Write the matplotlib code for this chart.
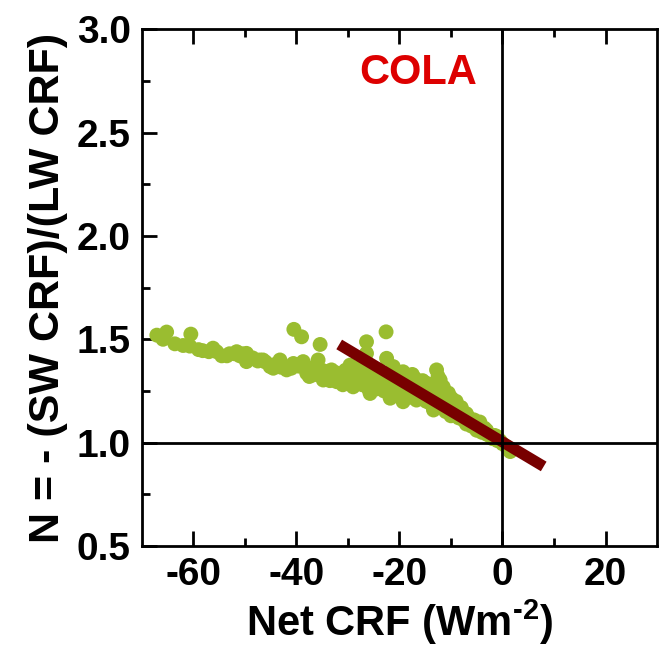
import matplotlib
matplotlib.use("Agg")
import matplotlib.pyplot as plt

# COLA: cloud radiative forcing ratio vs net CRF
net_crf = [-67.1, -65.2, -65.9, -63.6, -62.0, -60.5, -60.7, -59.0, -58.2, -57.0,
           -56.2, -55.5, -54.5, -53.5, -53.0, -52.0, -51.6, -51.0, -50.5, -49.7,
           -49.7, -48.5, -47.5, -47.1, -46.5, -46.0, -45.1, -44.5, -44.0, -43.2,
           -43.0, -42.5, -41.9, -41.0, -40.6, -40.5, -39.0, -39.5, -38.7, -38.0,
           -37.2, -37.0, -36.7, -36.0, -35.8, -35.4, -35.0, -34.8, -34.0, -33.2,
           -33.0, -32.5, -32.2, -31.5, -31.0, -30.5, -30.0, -30.0, -29.6, -29.0,
           -29.0, -28.5, -28.0, -28.0, -27.7, -27.5, -27.0, -27.0, -26.5, -26.4,
           -26.4, -26.0, -25.7, -25.5, -25.0, -25.0, -24.5, -24.0, -24.0, -24.0,
           -23.5, -23.0, -23.0, -22.6, -22.5, -22.5, -22.0, -22.0, -21.8, -21.5,
           -21.2, -21.0, -21.0, -20.5, -20.0, -20.0, -20.0, -19.5, -19.3, -19.3,
           -19.0, -19.0, -18.5, -18.0, -18.0, -18.0, -17.5, -17.0, -17.0, -16.7,
           -16.5, -16.0, -16.0, -15.5, -15.0, -15.0, -15.0, -14.7, -14.5, -14.0,
           -14.0, -13.5, -13.4, -13.0, -13.0, -12.8, -12.5, -12.1, -12.0, -12.0,
           -11.5, -11.5, -11.0, -11.0, -10.5, -10.5, -10.0, -10.0, -9.9, -9.5,
           -9.0, -9.0, -8.9, -8.5, -8.0, -8.0, -7.6, -7.0, -7.0, -6.5,
           -6.0, -6.0, -5.5, -5.0, -5.0, -4.4, -4.0, -3.5, -3.1, -3.0,
           -2.5, -2.0, -1.5, -1.1, -1.0, -0.5, 0.0, 0.8, 1.5,
           -33.5, -31.0, -28.5, -26.0, -23.5, -21.5, -19.5, -17.5, -15.5, -13.5,
           -11.8, -9.6, -37.5, -33.8, -29.8, -27.2, -24.8, -22.8, -20.8, -18.8,
           -16.8, -14.8, -12.6, -10.8]
n_ratio = [1.52, 1.535, 1.50, 1.478, 1.47, 1.525, 1.467, 1.45, 1.445, 1.44,
           1.457, 1.44, 1.42, 1.42, 1.43, 1.43, 1.44, 1.42, 1.43, 1.432,
           1.392, 1.41, 1.395, 1.40, 1.40, 1.39, 1.368, 1.36, 1.38, 1.40,
           1.365, 1.37, 1.352, 1.36, 1.383, 1.548, 1.512, 1.37, 1.392, 1.336,
           1.36, 1.34, 1.328, 1.36, 1.40, 1.475, 1.35, 1.303, 1.33, 1.352,
           1.32, 1.34, 1.295, 1.33, 1.31, 1.35, 1.29, 1.32, 1.375, 1.27,
           1.34, 1.32, 1.36, 1.30, 1.335, 1.29, 1.30, 1.33, 1.31, 1.432,
           1.488, 1.35, 1.238, 1.27, 1.32, 1.30, 1.26, 1.35, 1.29, 1.32,
           1.31, 1.25, 1.29, 1.536, 1.408, 1.33, 1.28, 1.30, 1.215, 1.24,
           1.368, 1.31, 1.28, 1.27, 1.34, 1.23, 1.30, 1.29, 1.343, 1.198,
           1.25, 1.32, 1.31, 1.22, 1.27, 1.29, 1.33, 1.311, 1.24, 1.206,
           1.28, 1.25, 1.27, 1.30, 1.21, 1.26, 1.24, 1.287, 1.23, 1.19,
           1.25, 1.28, 1.158, 1.22, 1.20, 1.352, 1.32, 1.303, 1.18, 1.24,
           1.27, 1.19, 1.21, 1.15, 1.24, 1.20, 1.18, 1.13, 1.215, 1.16,
           1.20, 1.14, 1.158, 1.12, 1.17, 1.13, 1.11, 1.14, 1.09, 1.12,
           1.08, 1.10, 1.11, 1.06, 1.08, 1.10, 1.05, 1.07, 1.06, 1.04,
           1.04, 1.02, 1.035, 1.03, 1.01, 1.01, 0.995, 0.98, 0.957,
           1.30, 1.28, 1.29, 1.26, 1.27, 1.25, 1.22, 1.23, 1.22, 1.23,
           1.21, 1.19, 1.32, 1.345, 1.31, 1.28, 1.285, 1.26, 1.25, 1.24,
           1.22, 1.20, 1.26, 1.22]

# regression line end points
fit_x = [-31.7, 8.0]
fit_y = [1.475, 0.885]

plt.rcParams['font.family'] = ['Liberation Sans', 'DejaVu Sans']
plt.rcParams['font.weight'] = 'bold'
plt.rcParams['axes.unicode_minus'] = False
plt.rcParams['mathtext.fontset'] = 'custom'
plt.rcParams['mathtext.rm'] = 'Liberation Sans:bold'
plt.rcParams['mathtext.bf'] = 'Liberation Sans:bold'
plt.rcParams['mathtext.default'] = 'bf'

fig = plt.figure(figsize=(6.6, 6.47), dpi=100)
ax = fig.add_axes([0.215, 0.156, 0.7805, 0.799])

ax.scatter(net_crf, n_ratio, s=115, color='#9abd30', edgecolors='none', zorder=2)
ax.plot(fit_x, fit_y, color='#780000', linewidth=8, solid_capstyle='butt', zorder=3)
ax.axhline(1.0, color='black', linewidth=2, zorder=4)
ax.axvline(0.0, color='black', linewidth=2, zorder=4)

ax.set_xlim(-70, 30)
ax.set_ylim(0.5, 3.0)
ax.set_xticks([-60, -40, -20, 0, 20])
ax.set_xticks([-50, -30, -10, 10], minor=True)
ax.set_yticks([0.5, 1.0, 1.5, 2.0, 2.5, 3.0])
ax.set_yticks([0.75, 1.25, 1.75, 2.25, 2.75], minor=True)
ax.set_yticklabels(['0.5', '1.0', '1.5', '2.0', '2.5', '3.0'])
ax.tick_params(which='both', direction='in', width=2, top=True, right=False,
               labelsize=28, pad=8)
ax.tick_params(which='major', length=11)
ax.tick_params(which='minor', length=6)
for sp in ax.spines.values():
    sp.set_linewidth(2)

ax.set_xlabel(r'Net CRF (Wm$^{\text{-2}}$)', fontsize=30, fontweight='bold', labelpad=3)
ax.set_ylabel('N = - (SW CRF)/(LW CRF)', fontsize=31, fontweight='bold', labelpad=6)
ax.text(-16.4, 2.787, 'COLA', color='#dd0000', fontsize=30, fontweight='bold',
        ha='center', va='center')

plt.savefig('out.png', dpi=100)
